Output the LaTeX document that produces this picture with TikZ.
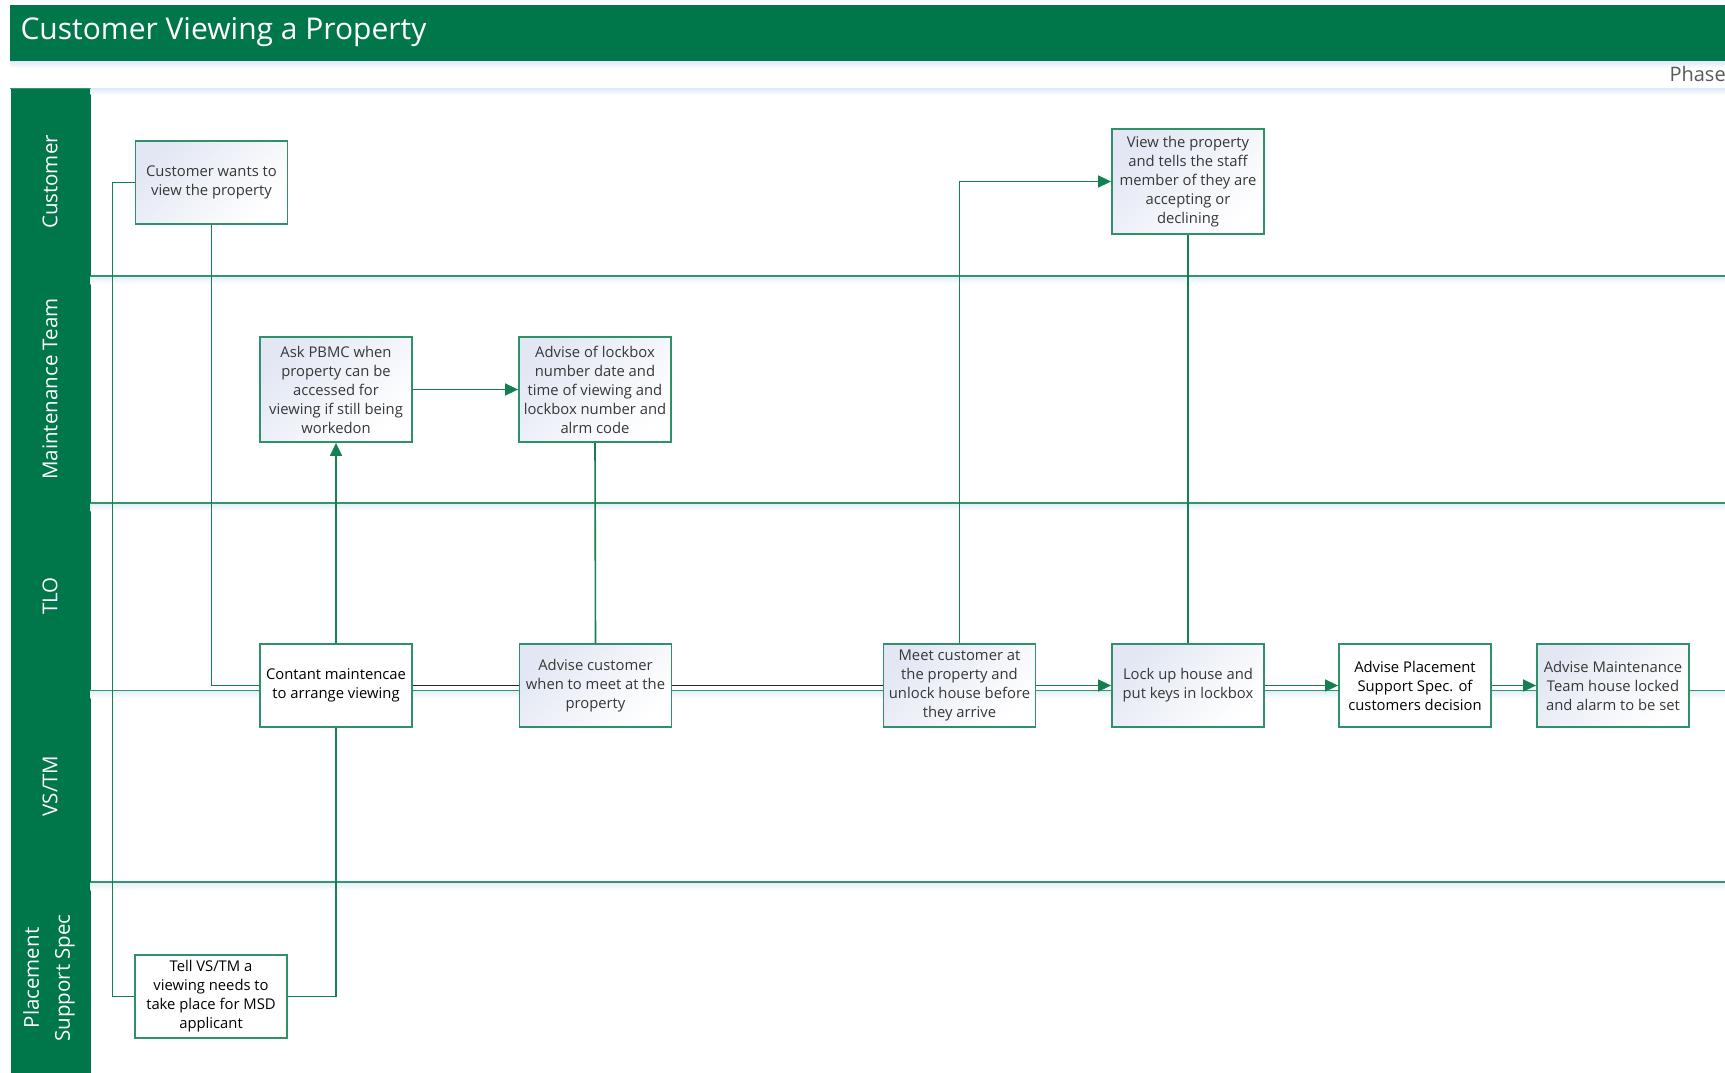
\documentclass[tikz,border=0pt]{standalone}
\usepackage{fontspec}
\setmainfont{Open Sans}
\usetikzlibrary{arrows.meta}

\definecolor{bandgreen}{RGB}{0,119,74}
\definecolor{boxgreen}{RGB}{46,145,104}
\definecolor{flowgreen}{RGB}{20,128,82}
\definecolor{lanegreen}{RGB}{52,148,108}
\definecolor{boxtint}{RGB}{226,231,243}
\definecolor{haze}{RGB}{226,236,246}
\definecolor{boxtext}{RGB}{55,55,55}
\definecolor{phasegray}{RGB}{90,90,90}

\begin{document}
\begin{tikzpicture}[x=1pt,y=-1pt,
  stepbox/.style={draw=boxgreen, line width=1.8pt, align=center, text=boxtext,
    font=\fontsize{14.8}{19}\selectfont, inner sep=1pt,
    minimum width=152pt, minimum height=83pt},
  tallbox/.style={stepbox, minimum height=105pt},
  tinted/.style={top color=boxtint, bottom color=white, shading angle=45},
  plain/.style={fill=white, text=black},
  lanelabel/.style={rotate=90, text=white, align=center,
    font=\fontsize{20.5}{31}\selectfont},
  flow/.style={draw=flowgreen, line width=1.6pt},
  flowarrow/.style={flow, -{Triangle[length=13pt,width=12pt]}},
  darkflow/.style={draw=black!85, line width=1.6pt},
  laneline/.style={draw=lanegreen, line width=1.5pt}
]
\useasboundingbox (0,0) rectangle (1725,1073);
\clip (0,0) rectangle (1725,1073);

% title band and phase strip
\fill[bandgreen] (10,5) rectangle (1725,62);
\node[anchor=west, text=white, font=\fontsize{30}{34}\selectfont] (title) at (17,32) {Customer Viewing a Property};
\fill[white] (10,62) rectangle (1725,88);
\shade[top color=haze, bottom color=white] (10,62) rectangle (1725,68);
\draw[laneline] (10,88.5) -- (1725,88.5);
\node[anchor=west, text=phasegray, font=\fontsize{20}{24}\selectfont] (phase) at (1666,74) {Phase};

% lane header column
\fill[bandgreen] (11,89) rectangle (90.7,1073);
\shade[top color=haze, bottom color=white] (90.7,89) rectangle (1725,95);

% lane dividers with soft shadow
\foreach \yy in {276,503,690.5,882}{
  \shade[top color=haze, bottom color=white] (90.7,\yy) rectangle (1725,\yy+8);
  \draw[laneline] (90.7,\yy) -- (1725,\yy);
}

% lane labels
\node[lanelabel] (lcust) at (50,182) {Customer};
\node[lanelabel] (lmaint) at (50,389) {Maintenance Team};
\node[lanelabel] (ltlo) at (50,596) {TLO};
\node[lanelabel] (lvstm) at (50,786) {VS/TM};
\node[lanelabel] (lpss) at (49,978) {Placement\\Support Spec};

% process steps
\node[stepbox, tinted] (cust) at (211.5,182.5) {Customer wants to\\view the property};
\node[tallbox, tinted] (ask) at (336,389.5) {Ask PBMC when\\property can be\\accessed for\\viewing if still being\\workedon};
\node[tallbox, tinted] (lockbox) at (595,389.5) {Advise of lockbox\\number date and\\time of viewing and\\lockbox number and\\alrm code};
\node[tallbox, tinted] (view) at (1188,181.5) {View the property\\and tells the staff\\member of they are\\accepting or\\declining};
\node[stepbox, plain] (contact) at (336,685.5) {Contant maintencae\\to arrange viewing};
\node[stepbox, tinted] (advcust) at (595.5,685.5) {Advise customer\\when to meet at the\\property};
\node[stepbox, tinted] (meet) at (959.5,685.5) {Meet customer at\\the property and\\unlock house before\\they arrive};
\node[stepbox, tinted] (lock) at (1188,685.5) {Lock up house and\\put keys in lockbox};
\node[stepbox, plain] (advpss) at (1415,685.5) {Advise Placement\\Support Spec. of\\customers decision};
\node[stepbox, tinted] (advmt) at (1613,685.5) {Advise Maintenance\\Team house locked\\and alarm to be set};
\node[stepbox, plain] (tell) at (211,996.5) {Tell VS/TM a\\viewing needs to\\take place for MSD\\applicant};

% connectors
\draw[flow] (cust.west) -- ++(-22,0) |- (tell.west);
\draw[flow] (cust.south) |- (contact.west);
\draw[flow] (tell.east) -| (contact.south);
\draw[flowarrow] (contact.north) -- (ask.south);
\draw[flowarrow] (ask.east) -- (lockbox.west);
\draw[flow] (lockbox.south) -- (advcust.north);
\draw[darkflow] (contact.east) -- (advcust.west);
\draw[darkflow] (advcust.east) -- (meet.west);
\draw[flowarrow] (meet.north) |- (view.west);
\draw[flow] (view.south) -- (lock.north);
\draw[flowarrow] (meet.east) -- (lock.west);
\draw[flowarrow] (lock.east) -- (advpss.west);
\draw[flowarrow] (advpss.east) -- (advmt.west);
\end{tikzpicture}
\end{document}
